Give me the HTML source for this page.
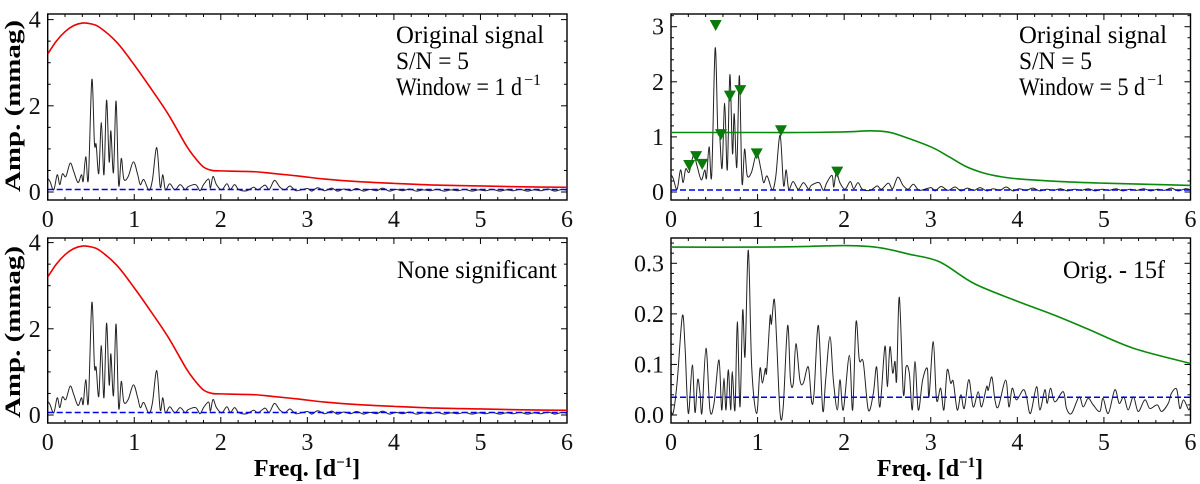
<!DOCTYPE html>
<html><head><meta charset="utf-8">
<style>
html,body{margin:0;padding:0;background:#fff;}
svg{display:block;}
svg text{font-family:"Liberation Serif","DejaVu Serif","Noto Serif CJK SC",serif;}
</style></head>
<body>
<svg id="chart" width="1200" height="484" viewBox="0 0 1200 484"></svg>
<script>
// ---------- data ----------
const xTicks = [0,1,2,3,4,5,6];
const leftYTicks = [0,2,4];
const rtYTicks = [0,1,2,3];
const rbYTicks = [0.0,0.1,0.2,0.3];
const rbYTickLabels = ["0.0","0.1","0.2","0.3"];

const specFreq = [0,0.027,0.07,0.11,0.14,0.17,0.21,0.26,0.30,0.35,0.39,0.41,0.44,0.47,0.51,0.54,0.56,0.59,0.62,0.65,0.68,0.71,0.73,0.76,0.79,0.82,0.85,0.88,0.93,0.99,1.04,1.07,1.11,1.17,1.21,1.26,1.30,1.33,1.36,1.41,1.47,1.53,1.59,1.62,1.71,1.76,1.80,1.86,1.88,1.91,1.95,2.01,2.07,2.11,2.16,2.21,2.30,2.38,2.43,2.51,2.56,2.62,2.68,2.74,2.80,2.87,3.0,3.05,3.12,3.2,3.28,3.35,3.42,3.5,3.57,3.65,3.72,3.8,3.87,3.95,4.02,4.1,4.18,4.26,4.34,4.42,4.5,4.58,4.66,4.74,4.82,4.9,4.98,5.06,5.14,5.22,5.3,5.38,5.46,5.54,5.62,5.7,5.78,5.86,5.94,6.0];
const specAmp = [0.32,0.24,0.05,0.40,0.17,0.42,0.36,0.67,0.48,0.22,0.40,0.25,0.82,0.30,2.61,1.13,1.10,0.43,1.61,0.40,2.13,0.70,1.42,0.45,2.11,0.17,0.78,0.30,0.36,0.70,0.40,0.17,0.29,0.04,0.28,1.03,0.12,0.40,0.05,0.19,0.05,0.17,0.05,0.12,0.17,0.03,0.17,0.30,0.09,0.36,0.17,0.05,0.19,0.06,0.17,0.05,0.03,0.11,0.05,0.16,0.06,0.27,0.12,0.05,0.14,0.03,0.08,0.02,0.10,0.03,0.09,0.02,0.07,0.03,0.08,0.02,0.06,0.03,0.09,0.02,0.06,0.03,0.07,0.02,0.05,0.03,0.06,0.02,0.05,0.03,0.06,0.02,0.05,0.03,0.06,0.02,0.05,0.03,0.06,0.02,0.05,0.03,0.07,0.02,0.06,0.04];

const redFreq = [0,0.1,0.2,0.3,0.4,0.5,0.6,0.8,1.0,1.2,1.4,1.6,1.7,1.8,1.9,2.0,2.2,2.4,2.6,2.9,3.2,3.6,4.0,4.5,5.0,5.5,6.0];
const redAmp  = [3.2,3.5,3.72,3.86,3.92,3.90,3.82,3.47,2.95,2.38,1.78,1.08,0.80,0.58,0.50,0.49,0.48,0.47,0.43,0.37,0.30,0.24,0.20,0.16,0.14,0.12,0.11];

const greenTopFreq = [0,1,1.5,2.0,2.3,2.5,2.64,3.0,3.2,3.41,3.6,3.8,4.0,4.5,5.0,5.5,6.0];
const greenTopAmp  = [1.08,1.08,1.08,1.09,1.11,1.09,1.03,0.82,0.65,0.46,0.35,0.28,0.24,0.19,0.16,0.14,0.12];

const markerFreq = [0.516,0.577,0.68,0.80,0.21,0.29,0.36,0.99,1.27,1.92];
const markerAmp  = [3.03,1.05,1.75,1.85,0.49,0.65,0.51,0.70,1.12,0.37];

const resFreq = [0,0.027,0.073,0.131,0.162,0.2,0.246,0.277,0.308,0.335,0.358,0.404,0.45,0.497,0.554,0.585,0.612,0.635,0.662,0.689,0.708,0.739,0.766,0.797,0.828,0.855,0.893,0.932,0.989,1.028,1.055,1.09,1.105,1.144,1.16,1.193,1.22,1.26,1.296,1.347,1.38,1.413,1.443,1.489,1.528,1.586,1.624,1.652,1.702,1.752,1.786,1.836,1.875,1.921,1.952,1.99,2.06,2.098,2.137,2.175,2.221,2.279,2.337,2.375,2.413,2.471,2.498,2.529,2.56,2.587,2.606,2.637,2.683,2.714,2.752,2.787,2.818,2.856,2.906,2.96,2.98,3.029,3.067,3.114,3.152,3.19,3.23,3.26,3.306,3.348,3.387,3.44,3.49,3.548,3.587,3.645,3.664,3.706,3.741,3.78,3.865,3.903,3.941,3.99,4.068,4.106,4.152,4.222,4.26,4.318,4.345,4.383,4.433,4.53,4.568,4.626,4.714,4.76,4.818,4.876,4.953,4.99,5.05,5.126,5.176,5.23,5.28,5.34,5.396,5.473,5.53,5.616,5.666,5.743,5.78,5.84,5.877,5.92,5.98,6.0];
const resAmp = [0.010,0.005,0.069,0.196,0.135,0.003,0.099,0.005,0.070,0.043,0.005,0.132,0.010,0.023,0.109,0.010,0.073,0.010,0.090,0.010,0.086,0.010,0.184,0.016,0.207,0.116,0.326,0.095,0.003,0.092,0.063,0.092,0.086,0.194,0.180,0.229,0.148,0.003,0.016,0.177,0.069,0.063,0.141,0.069,0.063,0.095,0.026,0.043,0.177,0.010,0.069,0.155,0.069,0.010,0.070,0.010,0.118,0.010,0.184,0.109,0.104,0.010,0.043,0.095,0.016,0.136,0.056,0.135,0.083,0.106,0.069,0.233,0.043,0.095,0.083,0.010,0.106,0.010,0.069,0.092,0.036,0.145,0.030,0.053,0.010,0.089,0.063,0.066,0.010,0.040,0.013,0.070,0.016,0.046,0.016,0.056,0.049,0.075,0.030,0.016,0.069,0.016,0.053,0.030,0.050,0.036,0.003,0.056,0.010,0.050,0.023,0.053,0.026,0.046,0.013,0.003,0.036,0.016,0.033,0.020,0.007,0.033,0.003,0.050,0.023,0.036,0.010,0.036,0.007,0.030,0.013,0.020,0.007,0.023,0.043,0.051,0.013,0.030,0.010,0.023];

const greenBotFreq = [0,1,1.5,2.0,2.3,2.5,2.75,3.1,3.5,4.0,4.42,4.8,5.34,6.0];
const greenBotAmp  = [0.332,0.332,0.333,0.335,0.333,0.328,0.318,0.303,0.26,0.225,0.198,0.171,0.132,0.102];

const noiseLeft = 0.058, noiseRT = 0.036, noiseRB = 0.035;

// ---------- drawing ----------
const NS = "http://www.w3.org/2000/svg";
const svg = document.getElementById('chart');
function mk(tag, attrs, parent){
  const e = document.createElementNS(NS, tag);
  for (const k in attrs) e.setAttribute(k, attrs[k]);
  (parent||svg).appendChild(e);
  return e;
}
function panel(x0,x1,yTop,yBot,yPix0,pxPerUnit){
  return {x0,x1,yTop,yBot,
    sx:f=>x0+(x1-x0)*f/6,
    sy:a=>yPix0-a*pxPerUnit};
}
const P = {
  lt: panel(47.7,567,14,200,192,43.1),
  lb: panel(47.7,567,238,423,415,43.1),
  rt: panel(671,1190.5,14,200,192,55.1),
  rb: panel(671,1190.5,238,423,415,505.7)
};
function smoothPath(p, xs, ys){
  const pts = xs.map((x,i)=>[p.sx(x), p.sy(ys[i])]);
  let d = `M${pts[0][0].toFixed(2)},${pts[0][1].toFixed(2)}`;
  for (let i=0;i<pts.length-1;i++){
    const p0=pts[Math.max(0,i-1)], p1=pts[i], p2=pts[i+1], p3=pts[Math.min(pts.length-1,i+2)];
    const c1=[p1[0]+(p2[0]-p0[0])/6, p1[1]+(p2[1]-p0[1])/6];
    const c2=[p2[0]-(p3[0]-p1[0])/6, p2[1]-(p3[1]-p1[1])/6];
    d += `C${c1[0].toFixed(2)},${c1[1].toFixed(2)} ${c2[0].toFixed(2)},${c2[1].toFixed(2)} ${p2[0].toFixed(2)},${p2[1].toFixed(2)}`;
  }
  return d;
}
function clip(id,p){
  const c = mk('clipPath',{id});
  mk('rect',{x:p.x0,y:p.yTop,width:p.x1-p.x0,height:p.yBot-p.yTop},c);
}
function axes(p, name, yMajor, yLabels, yMinorStep, yMinorMax){
  const g = mk('g',{});
  
  
  for (let f=0; f<=6.001; f+=0.2){
    const major = Math.abs(f-Math.round(f))<1e-6;
    const L = major?6:3, x=p.sx(f);
    mk('line',{x1:x,x2:x,y1:p.yBot,y2:p.yBot-L,stroke:'#000','stroke-width':1},g);
    mk('line',{x1:x,x2:x,y1:p.yTop,y2:p.yTop+L,stroke:'#000','stroke-width':1},g);
  }
  xTicks.forEach(t=>{
    const tx = mk('text',{x:p.sx(t),y:p.yBot+27,'text-anchor':'middle','font-size':24,fill:'#111'},g);
    tx.textContent = t;
    
    
  });
  for (let v=0; v<=yMinorMax+1e-9; v+=yMinorStep){
    const y=p.sy(v);
    if (y<p.yTop-0.5) continue;
    const major = yMajor.some(m=>Math.abs(m-v)<1e-6);
    const L = major?6:3;
    mk('line',{x1:p.x0,x2:p.x0+L,y1:y,y2:y,stroke:'#000','stroke-width':1},g);
    mk('line',{x1:p.x1,x2:p.x1-L,y1:y,y2:y,stroke:'#000','stroke-width':1},g);
  }
  yMajor.forEach((t,i)=>{
    const tx = mk('text',{x:p.x0-7,y:p.sy(t)+8,'text-anchor':'end','font-size':24,fill:'#111'},g);
    tx.textContent = yLabels[i];
    
    
  });
  mk('rect',{x:p.x0,y:p.yTop,width:p.x1-p.x0,height:p.yBot-p.yTop,fill:'none',stroke:'#000','stroke-width':1.4},g);
}
function line(p, xs, ys, color, w, name, cid){
  const e = mk('path',{d:smoothPath(p,xs,ys),fill:'none',stroke:color,'stroke-width':w,'clip-path':`url(#${cid})`,'stroke-linejoin':'round'});
  
  
}
function noise(p, v, name){
  const e = mk('line',{x1:p.x0,x2:p.x1,y1:p.sy(v),y2:p.sy(v),stroke:'#0000ee','stroke-width':1.5,'stroke-dasharray':'6,3'});
  
  
}
function label(lines, x, y0, dy, anchor, name){
  const g = mk('g',{});
  
  
  lines.forEach((l,i)=>{
    const t = mk('text',{x, y:y0+i*dy,'font-size':25,'text-anchor':anchor,fill:'#000',textLength:l[2],lengthAdjust:'spacingAndGlyphs'},g);
    t.textContent = l[0];
    if (l[1]){
      const s = mk('text',{x:x+l[2]+2, y:y0+i*dy-10,'font-size':16,fill:'#000'},g);
      s.textContent = l[1];
    }
  });
}

Object.entries(P).forEach(([k,p])=>clip('c'+k,p));

axes(P.lt,'left-top',leftYTicks,["0","2","4"],0.5,4.1);
line(P.lt,specFreq,specAmp,'#222',1,'amplitude-spectrum','clt');
line(P.lt,redFreq,redAmp,'#ee0000',1.6,'significance-curve','clt');
noise(P.lt,noiseLeft,'noise-level-line');
label([["Original signal",null,148],["S/N = 5",null,73],["Window = 1 d","−1",126]],396,43,26,'start','annotation-top-left');

axes(P.lb,'left-bottom',leftYTicks,["0","2","4"],0.5,4.1);
line(P.lb,specFreq,specAmp,'#222',1,'amplitude-spectrum','clb');
line(P.lb,redFreq,redAmp,'#ee0000',1.6,'significance-curve','clb');
noise(P.lb,noiseLeft,'noise-level-line');
label([["None significant",null,160]],397,278,0,'start','annotation-bottom-left');

axes(P.rt,'right-top',rtYTicks,["0","1","2","3"],0.2,3.2);
line(P.rt,specFreq,specAmp,'#222',1,'amplitude-spectrum','crt');
line(P.rt,greenTopFreq,greenTopAmp,'#0a8a0a',1.6,'significance-curve','crt');
noise(P.rt,noiseRT,'noise-level-line');
markerFreq.forEach((f,i)=>{
  const x=P.rt.sx(f), y=P.rt.sy(markerAmp[i]);
  const m = mk('polygon',{points:`${x-6},${y-5} ${x+6},${y-5} ${x},${y+6}`,fill:'#0a7a0a'});
  
  
});
label([["Original signal",null,148],["S/N = 5",null,73],["Window = 5 d","−1",126]],1019,43,26,'start','annotation-top-right');

axes(P.rb,'right-bottom',rbYTicks,rbYTickLabels,0.02,0.34);
line(P.rb,resFreq,resAmp,'#222',1,'residual-spectrum','crb');
line(P.rb,greenBotFreq,greenBotAmp,'#0a8a0a',1.6,'significance-curve','crb');
noise(P.rb,noiseRB,'noise-level-line');
label([["Orig. - 15f",null,102]],1063,278,0,'start','annotation-bottom-right');

function title(txt,x,y,rot,name,len){
  const t = mk('text',{x,y,'font-size':rot?22:24,'font-weight':'bold','text-anchor':'middle',fill:'#000'});
  if (rot) t.setAttribute('transform',`rotate(-90 ${x} ${y})`);
  if (Array.isArray(txt)){
    t.textContent=txt[0];
    const s=mk('tspan',{dy:-9,'font-size':15},t); s.textContent=txt[1];
    const s2=mk('tspan',{dy:9},t); s2.textContent=txt[2];
  } else { t.textContent=txt; t.setAttribute('textLength',len); t.setAttribute('lengthAdjust','spacingAndGlyphs'); }
  
  
}
title("Amp. (mmag)",20,106,true,'y-axis-title-top',172);
title("Amp. (mmag)",20,332,true,'y-axis-title-bottom',172);
title(["Freq. [d","−1","]"],307,476,false,'x-axis-title-left');
title(["Freq. [d","−1","]"],930,476,false,'x-axis-title-right');
</script>
</body></html>
